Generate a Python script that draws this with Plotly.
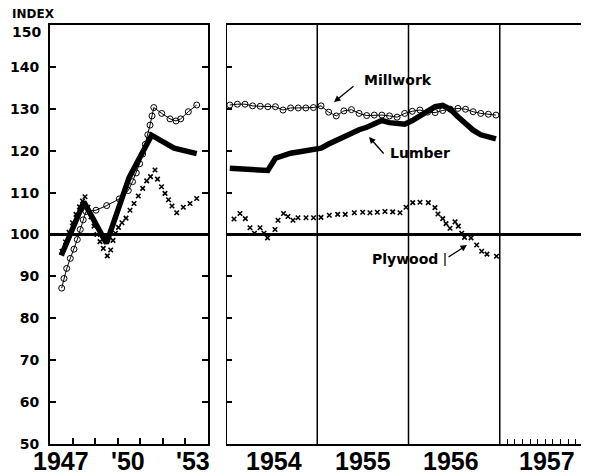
import plotly.graph_objects as go

# ---------------- data ----------------
# Left panel (1947-1953)
lumber_left_x = [1947.5, 1948.5, 1949.5, 1950.5, 1951.5, 1952.5, 1953.5]
lumber_left_y = [95.0, 107.8, 97.9, 113.5, 123.7, 120.6, 119.3]

millwork_left_x = [1947.518, 1947.620, 1947.740, 1947.899, 1948.063, 1948.210, 1948.342,
                   1948.471, 1948.595, 1949.038, 1949.512, 1950.070, 1950.469, 1950.655,
                   1950.824, 1950.970, 1951.103, 1951.222, 1951.333, 1951.431, 1951.519,
                   1951.599, 1951.949, 1952.317, 1952.583, 1952.791, 1953.128, 1953.500]
millwork_left_y = [87.2, 89.5, 91.9, 94.3, 96.5, 98.8, 101.2,
                   103.5, 105.5, 105.8, 106.9, 108.5, 110.5, 112.6,
                   114.7, 116.9, 119.2, 121.5, 123.8, 126.1, 128.3,
                   130.3, 128.9, 127.6, 127.1, 127.6, 129.3, 130.9]

plywood_left_x = [1947.532, 1947.687, 1947.842, 1947.997, 1948.152, 1948.307, 1948.440,
                  1948.551, 1948.684, 1948.817, 1948.950, 1949.082, 1949.215, 1949.362,
                  1949.539, 1949.689, 1949.791, 1949.902, 1950.035, 1950.190, 1950.367,
                  1950.545, 1950.722, 1950.912, 1951.107, 1951.284, 1951.453, 1951.652,
                  1951.763, 1951.940, 1952.095, 1952.250, 1952.405, 1952.614, 1952.906,
                  1953.203, 1953.500]
plywood_left_y = [96.0, 98.2, 100.5, 102.8, 104.8, 106.6, 108.0,
                  109.0, 106.5, 104.2, 102.0, 100.0, 98.3, 96.7,
                  94.9, 96.3, 98.6, 100.3, 101.7, 102.8, 103.9,
                  105.8, 107.4, 109.2, 111.0, 112.8, 113.8, 115.4,
                  113.2, 111.4, 109.8, 108.3, 106.8, 105.2, 106.5,
                  107.4, 108.6]

# Right panel (monthly, 1954-1956)
months_right = [y + (m - 0.5) / 12 for y in (1954, 1955, 1956) for m in range(1, 13)]
millwork_right = [130.9, 131.1, 131.1, 130.7, 130.6, 130.5, 130.5, 129.7, 130.2, 130.2, 130.2, 130.3,
                  130.7, 129.2, 128.3, 129.5, 129.8, 128.9, 128.4, 128.5, 128.5, 128.3, 128.0, 128.9,
                  129.4, 129.7, 129.2, 129.1, 129.6, 129.9, 130.1, 129.9, 129.3, 128.9, 128.7, 128.5]
lumber_right = [115.8, 115.7, 115.6, 115.4, 115.2, 115.3, 118.2, 118.9, 119.4, 119.7, 119.9, 120.2,
                120.6, 121.6, 122.5, 123.3, 124.2, 125.0, 125.6, 126.5, 127.2, 126.7, 126.4, 126.3,
                127.2, 128.4, 129.6, 130.5, 130.8, 129.9, 128.1, 126.4, 124.9, 123.8, 123.2, 122.8]

plywood_right_x = [1954.088, 1954.153, 1954.212, 1954.263, 1954.312, 1954.373, 1954.416,
                   1954.455, 1954.537, 1954.570, 1954.630, 1954.679, 1954.734, 1954.789,
                   1954.877, 1954.959, 1955.041, 1955.132, 1955.224, 1955.307, 1955.406,
                   1955.498, 1955.578, 1955.658, 1955.742, 1955.827, 1955.907, 1955.973,
                   1956.046, 1956.126, 1956.217, 1956.290, 1956.323, 1956.375, 1956.411,
                   1956.455, 1956.510, 1956.546, 1956.583, 1956.614, 1956.685, 1956.747,
                   1956.802, 1956.860, 1956.964]
plywood_right_y = [103.7, 105.0, 103.8, 101.6, 100.3, 101.6, 100.3,
                   99.2, 101.2, 103.4, 105.0, 104.3, 103.4, 104.0,
                   104.0, 104.0, 104.1, 104.6, 104.8, 104.8, 105.2,
                   105.3, 105.2, 105.3, 105.5, 105.4, 105.2, 106.5,
                   107.6, 107.7, 107.6, 106.4, 104.9, 103.8, 102.6,
                   101.5, 103.0, 102.0, 100.3, 99.3, 99.2, 97.5,
                   96.0, 95.3, 94.8]

y_ticks = [50, 60, 70, 80, 90, 100, 110, 120, 130, 140, 150]
y_ticktext = ["50", "60", "70", "80", "90", "100", "110", "120", "130", "140", ""]
top_label = "150"
left_year_bounds = [1948, 1949, 1950, 1951, 1952, 1953]
month_ticks_1957 = [1957 + k / 12 for k in range(1, 12)]
x_labels = [("1947", "x", 1947.5), ("'50", "x", 1950.45), ("'53", "x", 1953.35),
            ("1954", "x2", 1954.53), ("1955", "x2", 1955.5), ("1956", "x2", 1956.47),
            ("1957", "x2", 1957.52)]

# ---------------- figure ----------------
# page body has an 8px margin; figure sized so that its plot area lands where the reference's is
OFF = 8
W, H = 589 - OFF, 476 - OFF
ML, MR, MT, MB = 50 - OFF, 0, 25 - OFF, 32
PW = W - ML - MR          # 539
PH = H - MT - MB          # 419
left_dom = [0, 158 / PW]
right_dom = [176 / PW, 1.0]
right_end = 1954 + (589 - 226) / 91.25


def px_to_paper_x(px):
    return (px - OFF - ML) / PW


def px_to_paper_y(py):
    return (H + OFF - MB - py) / PH


fig = go.Figure()

circ = dict(symbol="circle-open", size=6, color="black", line=dict(width=1, color="black"))
xmk = dict(symbol="x-thin", size=4.5, color="black", line=dict(width=1.6, color="black"))

for xa, ya, mx, my, lx, ly, px, py in [
    ("x", "y", millwork_left_x, millwork_left_y, lumber_left_x, lumber_left_y, plywood_left_x, plywood_left_y),
    ("x2", "y2", months_right, millwork_right, months_right, lumber_right, plywood_right_x, plywood_right_y),
]:
    fig.add_trace(go.Scatter(x=px, y=py, mode="markers", marker=xmk, xaxis=xa, yaxis=ya,
                             name="Plywood", showlegend=False, hoverinfo="skip"))
    fig.add_trace(go.Scatter(x=mx, y=my, mode="lines+markers", marker=circ,
                             line=dict(color="black", width=1), xaxis=xa, yaxis=ya,
                             name="Millwork", showlegend=False))
    fig.add_trace(go.Scatter(x=lx, y=ly, mode="lines", line=dict(color="black", width=5.5),
                             xaxis=xa, yaxis=ya, name="Lumber", showlegend=False))

axis_common = dict(showgrid=False, zeroline=False, linecolor="black", linewidth=2)
tick_font = dict(family="DejaVu Sans", size=14, weight="bold", color="black")

fig.update_layout(
    width=W, height=H,
    margin=dict(l=ML, r=MR, t=MT, b=MB, pad=0),
    paper_bgcolor="white", plot_bgcolor="white",
    font=dict(family="DejaVu Sans", color="black"),
    xaxis=dict(domain=left_dom, range=[1947, 1954], anchor="y", showline=True, mirror=True,
               ticks="", showticklabels=False,
               minor=dict(tickvals=left_year_bounds, ticks="inside", ticklen=6, tickwidth=1.5,
                          tickcolor="black"),
               **axis_common),
    yaxis=dict(domain=[0, 1], range=[50, 150], anchor="x", tickvals=y_ticks, ticktext=y_ticktext,
               ticks="inside", ticklen=6, tickwidth=1.5, tickcolor="black",
               showline=True, mirror="ticks", ticklabelstandoff=6,
               tickfont=tick_font, **axis_common),
    xaxis2=dict(domain=right_dom, range=[1954, right_end], anchor="y2", showline=True, mirror=True,
                ticks="", showticklabels=False,
                minor=dict(tickvals=month_ticks_1957, ticks="inside", ticklen=5, tickwidth=1.2,
                           tickcolor="black"),
                **axis_common),
    yaxis2=dict(domain=[0, 1], range=[50, 150], anchor="x2", matches="y", tickvals=y_ticks,
                ticks="inside", ticklen=6, tickwidth=1.5, tickcolor="black",
                showline=False, mirror="ticks", showticklabels=False,
                showgrid=False, zeroline=False),
)

shapes = []
# base line at 100 in both panels
shapes.append(dict(type="line", xref="x", yref="y", x0=1947, x1=1954, y0=100, y1=100,
                   line=dict(color="black", width=3), layer="below"))
shapes.append(dict(type="line", xref="x2", yref="y2", x0=1954, x1=right_end, y0=100, y1=100,
                   line=dict(color="black", width=3), layer="below"))
# year dividers in right panel
shapes.append(dict(type="line", xref="x2", yref="paper", x0=1954, x1=1954, y0=0, y1=1,
                   line=dict(color="black", width=2)))
for yr in (1955, 1956, 1957):
    shapes.append(dict(type="line", xref="x2", yref="paper", x0=yr, x1=yr, y0=0, y1=1,
                       line=dict(color="black", width=1.5), layer="below"))
# small tail bar at the Plywood arrow
shapes.append(dict(type="line", xref="paper", yref="paper",
                   x0=px_to_paper_x(445), x1=px_to_paper_x(445),
                   y0=px_to_paper_y(253), y1=px_to_paper_y(266),
                   line=dict(color="black", width=1.2)))
fig.update_layout(shapes=shapes)


def yr_r(px):
    return 1954 + (px - 226) / 91.25


def val(py):
    return 150 - (py - 25) / 4.19


ann = []
for txt, xr, xv in x_labels:
    ann.append(dict(text=f"<b>{txt}</b>", x=xv, xref=xr, y=0, yref="paper",
                    yanchor="middle", yshift=-17, showarrow=False,
                    font=dict(family="Liberation Sans, Arial", size=25, color="black")))
ann.append(dict(text="<b>INDEX</b>", x=px_to_paper_x(10), xref="paper", xanchor="left",
                y=px_to_paper_y(14), yref="paper", yanchor="middle", showarrow=False,
                font=dict(family="DejaVu Sans", size=12, color="black")))
ann.append(dict(text=f"<b>{top_label}</b>", x=px_to_paper_x(43), xref="paper", xanchor="right",
                y=px_to_paper_y(32), yref="paper", yanchor="middle", showarrow=False,
                font=dict(family="DejaVu Sans", size=14, color="black")))
lab_font = dict(family="DejaVu Sans", size=14, color="black")
ann.append(dict(text="<b>Millwork</b>", x=yr_r(398), xref="x2", y=val(80), yref="y2",
                showarrow=False, font=lab_font))
ann.append(dict(text="<b>Lumber</b>", x=yr_r(420), xref="x2", y=val(153), yref="y2",
                showarrow=False, font=lab_font))
ann.append(dict(text="<b>Plywood</b>", x=yr_r(405), xref="x2", y=val(259), yref="y2",
                showarrow=False, font=lab_font))
# arrows
arrow = dict(text="", showarrow=True, arrowhead=2, arrowsize=1, arrowwidth=1.3,
             arrowcolor="black", xref="x2", yref="y2")
ann.append(dict(arrow, x=yr_r(334), y=val(102), ax=21, ay=-17))
ann.append(dict(arrow, x=yr_r(369), y=val(137), ax=16, ay=18))
ann.append(dict(arrow, x=yr_r(467), y=val(245), ax=-20, ay=13))
fig.update_layout(annotations=ann)

fig.write_html("out.html")
